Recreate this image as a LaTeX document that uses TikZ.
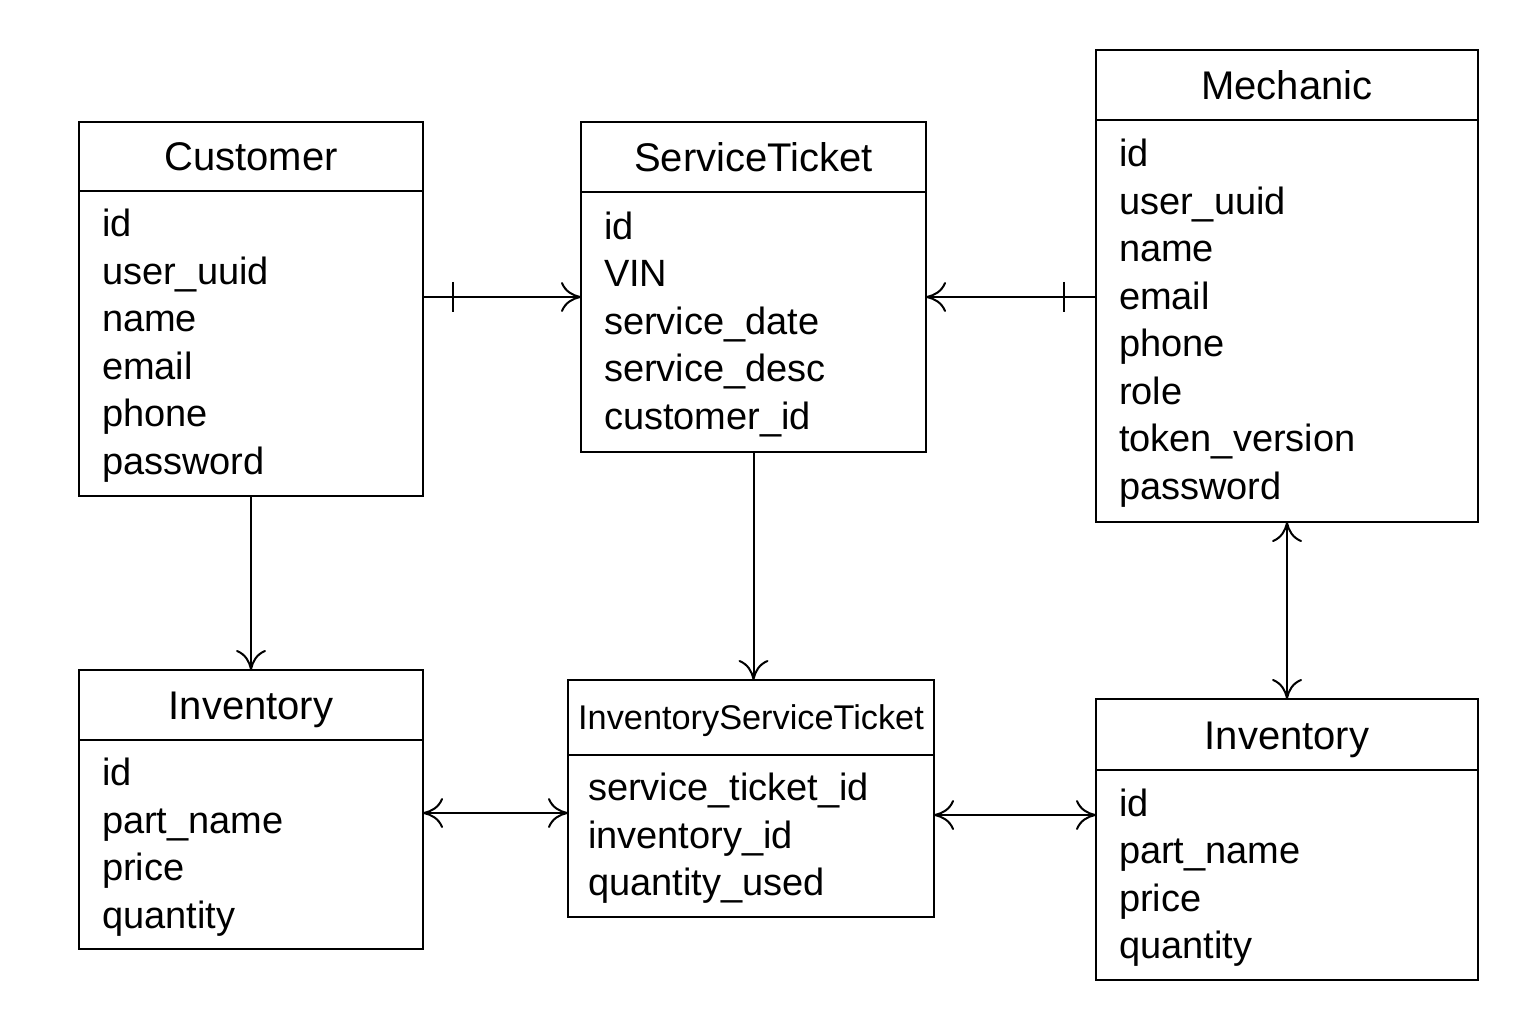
\documentclass[tikz,border=0pt]{standalone}
\usepackage{fontspec}
\setmainfont{Liberation Sans}
\usepackage{tikz}
\usetikzlibrary{arrows.meta}
\newcommand{\fieldstrut}{\rule[-11.5pt]{0pt}{47.5pt}}
\tikzset{
  head/.style={draw, line width=2pt, anchor=north west, inner sep=0pt, outer sep=0pt,
    font=\fontsize{40}{48}\selectfont, text height=29pt, text depth=0pt},
  fields/.style={draw, line width=2pt, anchor=north west, inner xsep=23pt, inner ysep=0pt,
    outer sep=0pt, align=left, font=\fontsize{38}{47.5}\selectfont,
    execute at begin node=\fieldstrut, execute at end node=\fieldstrut},
  link/.style={line width=2pt, >={Computer Modern Rightarrow[length=20pt,width=30pt]}}
}

\begin{document}
\begin{tikzpicture}[x=1pt, y=-1pt]
\useasboundingbox (0,0) rectangle (1536,1024);

% entities
\node[head, minimum width=344pt, minimum height=69pt] (cust) at (79,122) {Customer};
\node[fields, text width=298pt, minimum height=305pt] (cust-attr) at (cust.south west)
  {id\\ user\_uuid\\ name\\ email\\ phone\\ password};

\node[head, minimum width=345pt, minimum height=70pt] (st) at (581,122) {ServiceTicket};
\node[fields, text width=299pt, minimum height=260pt] (st-attr) at (st.south west)
  {id\\ VIN\\ service\_date\\ service\_desc\\ customer\_id};

\node[head, minimum width=382pt, minimum height=70pt] (mech) at (1096,50) {Mechanic};
\node[fields, text width=336pt, minimum height=402pt] (mech-attr) at (mech.south west)
  {id\\ user\_uuid\\ name\\ email\\ phone\\ role\\ token\_version\\ password};

\node[head, minimum width=344pt, minimum height=70pt] (invl) at (79,670) {Inventory};
\node[fields, text width=298pt, minimum height=209pt] (invl-attr) at (invl.south west)
  {id\\ part\_name\\ price\\ quantity};

\node[head, minimum width=366pt, minimum height=75pt, font=\fontsize{34.3}{40}\selectfont, text height=24.5pt] (ist) at (568,680) {InventoryServiceTicket};
\node[fields, inner xsep=20pt, text width=326pt, minimum height=162pt] (ist-attr) at (ist.south west)
  {service\_ticket\_id\\ inventory\_id\\ quantity\_used};

\node[head, minimum width=382pt, minimum height=71pt] (invr) at (1096,699) {Inventory};
\node[fields, text width=336pt, minimum height=210pt] (invr-attr) at (invr.south west)
  {id\\ part\_name\\ price\\ quantity};

% relations
\draw[link,->] (cust-attr.east |- 0,297) -- (st-attr.west |- 0,297);
\draw[link] (cust-attr.east |- 0,297) ++(30,-15) -- ++(0,30);
\draw[link,->] (mech-attr.west |- 0,297) -- (st-attr.east |- 0,297);
\draw[link] (mech-attr.west |- 0,297) ++(-32,-15) -- ++(0,30);
\draw[link,->] (cust-attr.south) -- (invl.north);
\draw[link,->] (st-attr.south) -- (st-attr.south |- ist.north);
\draw[link,<->] (mech-attr.south) -- (invr.north);
\draw[link,<->] (invl-attr.east |- 0,813) -- (ist-attr.west |- 0,813);
\draw[link,<->] (ist-attr.east |- 0,815) -- (invr-attr.west |- 0,815);
\end{tikzpicture}
\end{document}
